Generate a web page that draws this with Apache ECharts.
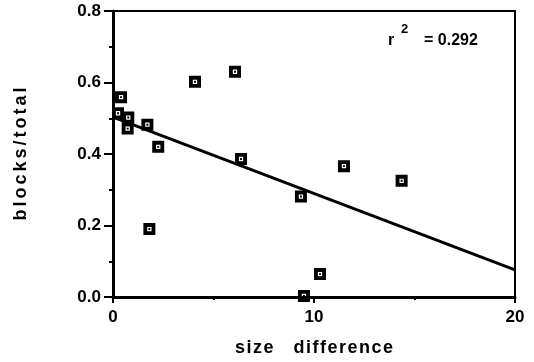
<!DOCTYPE html>
<html>
<head>
<meta charset="utf-8">
<script src="https://cdn.jsdelivr.net/npm/echarts@6/dist/echarts.min.js"></script>
<style>
html,body{margin:0;padding:0;background:#fff;}
#main{width:534px;height:362px;}
</style>
</head>
<body>
<div id="main"></div>
<script>
// 数据
var sizeDiff = [0.40, 0.25, 0.76, 0.73, 1.71, 2.25, 4.08, 6.07, 6.37, 1.81, 11.49, 14.36, 9.35, 10.30, 9.50];
var blocksTotal = [0.559, 0.514, 0.502, 0.471, 0.482, 0.420, 0.602, 0.630, 0.386, 0.190, 0.366, 0.325, 0.281, 0.064, 0.003];
var fitX = [0, 20];
var fitY = [0.503, 0.076];
var rSquared = '0.292';
var xTicks = [0, 10, 20];
var yTicks = [0.0, 0.2, 0.4, 0.6, 0.8];

var font = 'Liberation Sans, Arial, sans-serif';
// 黑方块 + 细白框 + 黑心
var boxSymbol = 'path://M0,0L10,0L10,10L0,10Z M3.2,3.2L3.2,6.8L6.8,6.8L6.8,3.2Z M4.2,4.2L5.8,4.2L5.8,5.8L4.2,5.8Z';
var hair = '\u200A';

function spaced(s, gap){
    return s.split('').join(gap);
}

var myChart = echarts.init(document.getElementById('main'));
var points = sizeDiff.map(function(x, i){ return [x, blocksTotal[i]]; });
var line = fitX.map(function(x, i){ return [x, fitY[i]]; });

option = {
    animation: false,
    backgroundColor: '#fff',
    grid: {
        left: 113, top: 11, right: 19, bottom: 63,
        show: true, borderColor: '#000', borderWidth: 2
    },
    xAxis: {
        type: 'value', min: xTicks[0], max: xTicks[xTicks.length - 1], interval: 10,
        name: spaced('size', hair) + '    ' + spaced('difference', hair), nameLocation: 'middle', nameGap: 42,
        nameTextStyle: {color: '#000', fontFamily: font, fontWeight: 'bold', fontSize: 18},
        axisLine: {onZero: false, lineStyle: {color: '#000', width: 3}},
        axisTick: {show: true, inside: false, length: 6, lineStyle: {color: '#000', width: 2}},
        minorTick: {show: true, splitNumber: 2, length: 3, lineStyle: {color: '#000', width: 2}},
        axisLabel: {color: '#000', fontFamily: font, fontWeight: 'bold', fontSize: 17, margin: 12,
            formatter: function(v){ return String(v); }},
        splitLine: {show: false}
    },
    yAxis: {
        type: 'value', min: yTicks[0], max: yTicks[yTicks.length - 1], interval: 0.2,
        name: spaced('blocks/total', hair + hair), nameLocation: 'middle', nameGap: 83, nameRotate: 90,
        nameTextStyle: {color: '#000', fontFamily: font, fontWeight: 'bold', fontSize: 18},
        axisLine: {onZero: false, lineStyle: {color: '#000', width: 3}},
        axisTick: {show: true, length: 9, lineStyle: {color: '#000', width: 2}},
        minorTick: {show: true, splitNumber: 2, length: 4, lineStyle: {color: '#000', width: 2}},
        axisLabel: {color: '#000', fontFamily: font, fontWeight: 'bold', fontSize: 17, margin: 12,
            formatter: function(v){ return v.toFixed(1); }},
        splitLine: {show: false}
    },
    graphic: [
        {type: 'text', left: 388, top: 33, style: {text: 'r', fill: '#000', font: 'bold 16px ' + font}},
        {type: 'text', left: 401, top: 23, style: {text: '2', fill: '#000', font: 'bold 13px ' + font}},
        {type: 'text', left: 424, top: 33, style: {text: '= ' + rSquared, fill: '#000', font: 'bold 16px ' + font}}
    ],
    series: [
        {
            type: 'line', data: line, symbol: 'none', silent: true,
            lineStyle: {color: '#000', width: 3}, z: 2
        },
        {
            type: 'scatter', data: points, symbol: boxSymbol, symbolSize: 12,
            itemStyle: {color: '#000', opacity: 1}, z: 3
        }
    ]
};
myChart.setOption(option);
</script>
</body>
</html>
